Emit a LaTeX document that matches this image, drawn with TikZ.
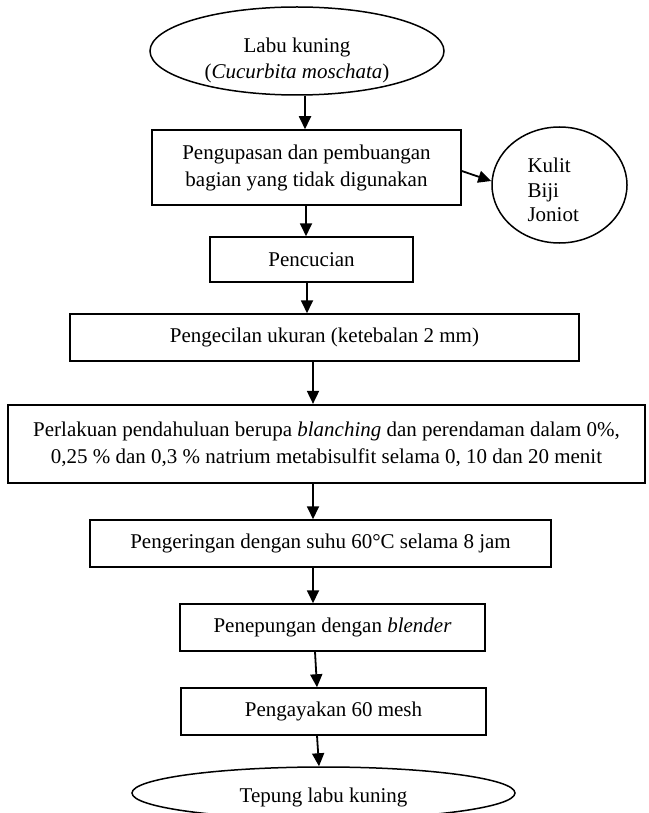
\documentclass[tikz,border=0pt]{standalone}
\usepackage{fontspec}
\setmainfont{Liberation Serif}
\usetikzlibrary{shapes.geometric,arrows.meta}
\begin{document}
\begin{tikzpicture}[x=1pt,y=-1pt,
  every node/.style={font=\fontsize{21}{27}\selectfont},
  procbox/.style={draw,line width=1.5pt,rectangle,inner sep=0pt,align=center},
  terminal/.style={draw,line width=1.5pt,ellipse,inner sep=0pt},
  arr/.style={line width=1.8pt,-{Triangle[length=13pt,width=12pt]}}]
\useasboundingbox (0,0) rectangle (648,813);
\clip (0,0) rectangle (648,813);
% nodes
\node[terminal,minimum width=294pt,minimum height=88pt] (src) at (297,51) {};
\node[align=center,font=\fontsize{21}{26}\selectfont] (srct) at (297,60) {Labu kuning\\(\textit{Cucurbita moschata})};
\node[procbox,minimum width=309pt,minimum height=75pt] (kupas) at (306.5,167.5) {Pengupasan dan pembuangan\\bagian yang tidak digunakan};
\node[terminal,minimum width=135pt,minimum height=116pt] (waste) at (559.5,185) {};
\node[anchor=west,align=left,font=\fontsize{21}{24.5}\selectfont] (wastet) at (524,190) {Kulit\\Biji\\Joniot};
\node[procbox,minimum width=203pt,minimum height=45pt] (cuci) at (311.5,259.5) {Pencucian};
\node[procbox,minimum width=509pt,minimum height=47pt] (kecil) at (324.5,337.5) {Pengecilan ukuran (ketebalan 2 mm)};
\node[procbox,line width=2.2pt,minimum width=637pt,minimum height=78pt] (lakuan) at (326.5,444) {Perlakuan pendahuluan berupa \textit{blanching} dan perendaman dalam 0\%,\\0,25 \% dan 0,3 \% natrium metabisulfit selama 0, 10 dan 20 menit};
\node[procbox,minimum width=461pt,minimum height=47pt] (kering) at (320.5,543.5) {Pengeringan dengan suhu 60\textdegree C selama 8 jam};
\node[procbox,minimum width=305pt,minimum height=47pt] (tepung) at (332.5,627.5) {Penepungan dengan \textit{blender}};
\node[procbox,minimum width=305pt,minimum height=47pt] (ayak) at (333.5,711.5) {Pengayakan 60 mesh};
\node[terminal,minimum width=383pt,minimum height=52pt] (hasil) at (323.5,793) {};
\node (hasilt) at (323.5,797) {Tepung labu kuning};
% connectors
\draw[arr] (src.south -| 305,0) -- (kupas.north -| 305,0);
\draw[arr] (kupas.south -| 306,0) -- (cuci.north -| 306,0);
\draw[arr] (kupas.east |- 0,171) -- (waste.west |- 0,181);
\draw[arr] (cuci.south -| 307,0) -- (kecil.north -| 307,0);
\draw[arr] (kecil.south -| 313,0) -- (lakuan.north -| 313,0);
\draw[arr] (lakuan.south -| 313,0) -- (kering.north -| 313,0);
\draw[arr] (kering.south -| 313,0) -- (tepung.north -| 313,0);
\draw[arr] (tepung.south -| 315,0) -- (ayak.north -| 317,0);
\draw[arr] (ayak.south -| 317,0) -- (hasil.north -| 319,0);
\end{tikzpicture}
\end{document}
